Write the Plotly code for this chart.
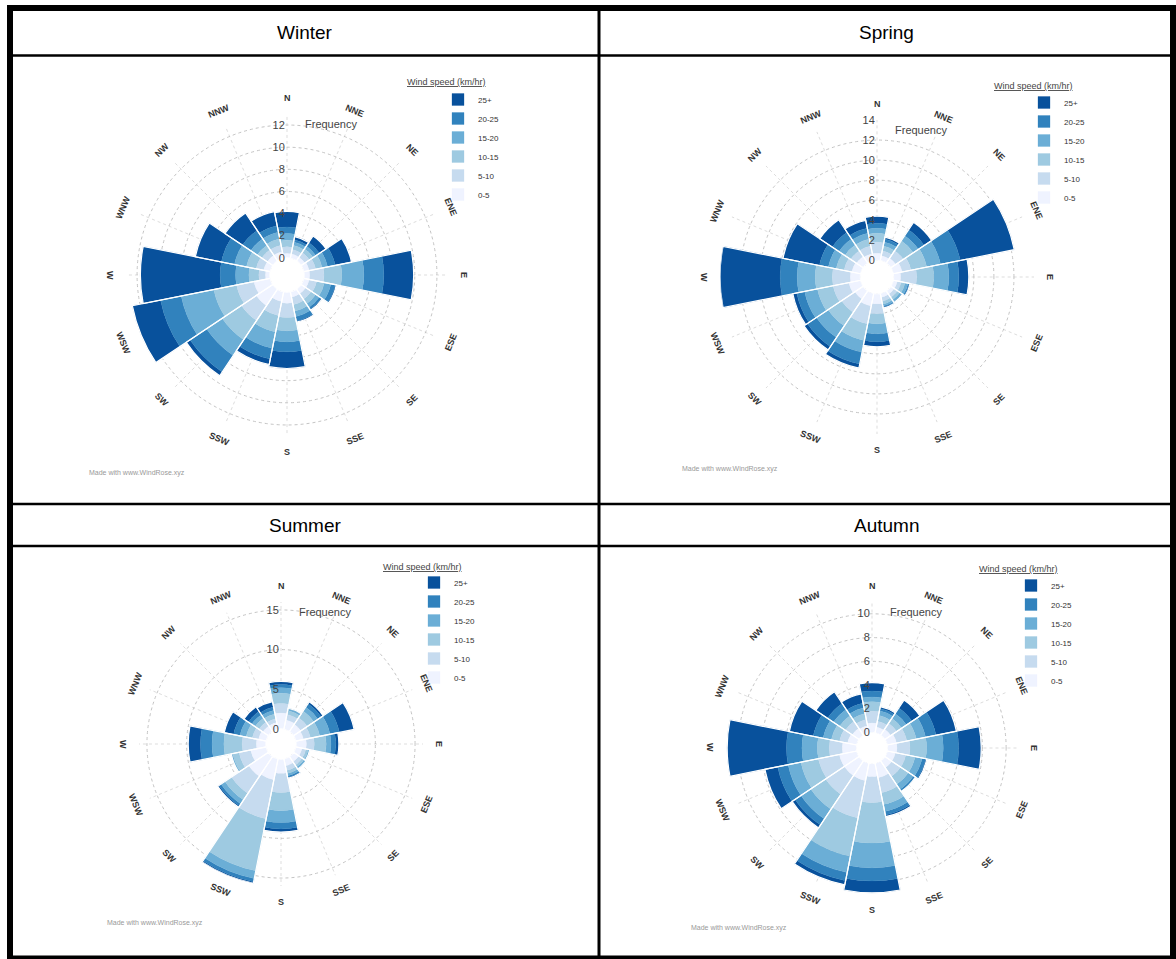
import math
import plotly.graph_objects as go

W, H = 1176, 959

directions = ["N", "NNE", "NE", "ENE", "E", "ESE", "SE", "SSE",
              "S", "SSW", "SW", "WSW", "W", "WNW", "NW", "NNW"]
speed_bins = ["0-5", "5-10", "10-15", "15-20", "20-25", "25+"]
bin_colors = ["#eff3ff", "#c6dbef", "#9ecae1", "#6baed6", "#3182bd", "#08519c"]
seasons = ["Winter", "Spring", "Summer", "Autumn"]

# Frequency (%) per speed bin, over the 16 directions (N ... NNW)
winter_0_5 = [0.4, 0.4, 0.4, 0.5, 0.5, 0.5, 0.5, 0.5, 1.0, 0.9, 1.8, 1.5, 0.4, 0.6, 0.6, 0.6]
winter_5_10 = [0.6, 0.4, 0.5, 0.6, 1.3, 0.7, 0.6, 0.7, 1.3, 1.3, 1.6, 1.6, 0.6, 0.7, 0.6, 0.6]
winter_10_15 = [0.6, 0.4, 0.4, 0.6, 1.6, 0.7, 0.5, 0.6, 1.2, 1.5, 2.1, 2.1, 0.9, 0.9, 0.5, 0.6]
winter_15_20 = [0.6, 0.3, 0.3, 0.5, 2.0, 0.6, 0.4, 0.5, 1.0, 1.5, 1.7, 3.0, 1.2, 1.1, 0.7, 0.6]
winter_20_25 = [0.6, 0.2, 0.4, 0.7, 1.8, 0.4, 0.2, 0.4, 0.9, 1.0, 1.8, 1.9, 1.4, 1.2, 0.9, 0.6]
winter_25p = [1.4, 0.3, 0.7, 1.5, 2.7, 0.1, 0.1, 0.1, 1.5, 0.5, 0.4, 2.6, 7.2, 2.4, 1.9, 1.3]

spring_0_5 = [0.7, 0.5, 0.6, 0.9, 0.7, 0.4, 0.4, 0.4, 1.0, 1.3, 1.0, 1.2, 1.0, 0.9, 0.8, 0.7]
spring_5_10 = [1.1, 0.5, 0.9, 0.9, 1.6, 0.4, 0.4, 0.4, 1.0, 1.8, 1.6, 1.6, 1.8, 0.8, 0.7, 0.8]
spring_10_15 = [0.9, 0.5, 1.2, 1.6, 1.7, 0.4, 0.3, 0.3, 1.0, 1.7, 1.6, 1.6, 1.7, 0.8, 0.7, 0.7]
spring_15_20 = [0.5, 0.4, 0.6, 1.4, 1.5, 0.3, 0.2, 0.2, 1.0, 1.2, 1.4, 1.3, 1.8, 0.8, 0.7, 0.6]
spring_20_25 = [0.5, 0.3, 0.7, 2.0, 1.0, 0.1, 0.1, 0.1, 0.8, 1.2, 1.1, 0.8, 1.7, 0.9, 0.8, 0.5]
spring_25p = [0.7, 0.2, 0.9, 5.5, 1.0, 0.1, 0.0, 0.1, 0.5, 0.4, 0.4, 0.4, 6.0, 3.7, 1.5, 0.8]

summer_0_5 = [2.0, 1.2, 1.1, 1.0, 1.3, 0.8, 0.8, 0.9, 1.8, 2.7, 3.0, 2.0, 1.2, 1.0, 0.85, 0.85]
summer_5_10 = [1.2, 0.7, 1.0, 0.9, 1.0, 0.5, 0.5, 0.6, 2.4, 5.0, 2.6, 1.5, 1.8, 0.8, 0.6, 0.5]
summer_10_15 = [1.3, 0.5, 1.0, 1.2, 1.5, 0.3, 0.3, 0.4, 2.3, 6.7, 1.0, 0.8, 2.3, 0.8, 0.6, 0.6]
summer_15_20 = [0.7, 0.2, 0.6, 1.3, 0.6, 0.2, 0.2, 0.3, 1.5, 1.0, 0.6, 0.2, 1.5, 0.8, 0.5, 0.5]
summer_20_25 = [0.4, 0.1, 0.5, 1.2, 0.6, 0.0, 0.1, 0.2, 0.8, 0.4, 0.3, 0.0, 1.45, 0.8, 0.5, 0.4]
summer_25p = [0.4, 0.0, 0.3, 1.9, 0.4, 0.0, 0.0, 0.1, 0.4, 0.2, 0.2, 0.0, 1.55, 1.2, 0.7, 0.7]

autumn_0_5 = [0.8, 0.5, 0.6, 0.8, 0.8, 0.7, 0.7, 1.25, 1.1, 1.5, 1.5, 1.5, 1.2, 0.8, 0.7, 0.6]
autumn_5_10 = [1.0, 0.5, 0.6, 0.9, 1.1, 0.9, 0.9, 1.3, 2.2, 3.2, 1.9, 1.8, 1.1, 0.7, 0.7, 0.55]
autumn_10_15 = [0.8, 0.5, 0.5, 0.8, 1.4, 0.8, 0.8, 1.0, 3.4, 3.3, 1.5, 1.5, 1.0, 0.7, 0.6, 0.5]
autumn_15_20 = [0.4, 0.4, 0.5, 0.8, 1.4, 0.6, 0.5, 0.6, 2.1, 1.4, 1.0, 1.1, 1.3, 0.7, 0.6, 0.5]
autumn_20_25 = [0.5, 0.2, 0.55, 0.9, 1.3, 0.3, 0.2, 0.3, 1.1, 0.7, 0.6, 0.9, 1.3, 0.85, 0.6, 0.4]
autumn_25p = [0.7, 0.15, 0.8, 1.75, 1.9, 0.1, 0.0, 0.15, 1.0, 0.35, 0.3, 1.1, 5.0, 2.05, 1.2, 0.8]

radial_max = [13, 14, 16, 11]
radial_dtick = [2, 2, 5, 2]

season_bins = [
    [winter_0_5, winter_5_10, winter_10_15, winter_15_20, winter_20_25, winter_25p],
    [spring_0_5, spring_5_10, spring_10_15, spring_15_20, spring_20_25, spring_25p],
    [summer_0_5, summer_5_10, summer_10_15, summer_15_20, summer_20_25, summer_25p],
    [autumn_0_5, autumn_5_10, autumn_10_15, autumn_15_20, autumn_20_25, autumn_25p],
]

# ---- layout geometry (pixels) ----
centers = [(287, 275), (877, 277), (281, 744), (872, 748)]
radii = [161, 157, 142, 146]
legend_pos = [(438, 85), (1024, 88), (414, 568), (1011, 571)]   # left, top of legend items
legend_title_pos = [(446, 82), (1033, 86), (422, 567), (1018, 569)]
credit_pos = [(87, 473), (680, 469), (105, 923), (689, 928)]
header_pos = [(305, 33), (886, 33), (305, 525), (886, 525)]


def fx(x):
    return x / W


def fy(y):
    return 1 - y / H


fig = go.Figure()
layout_extra = {}
annotations = []

for si, season in enumerate(seasons):
    sub = "polar" if si == 0 else f"polar{si + 1}"
    leg = "legend" if si == 0 else f"legend{si + 1}"
    bins = season_bins[si]
    # stacked bands: each band starts where the lower speed bands end
    base = [0.0] * len(directions)
    bases = []
    for bi in range(len(speed_bins)):
        bases.append(list(base))
        base = [b + v for b, v in zip(base, bins[bi])]
    totals = base
    for bi in reversed(range(len(speed_bins))):
        bname = speed_bins[bi]
        fig.add_trace(go.Barpolar(
            r=bins[bi], base=bases[bi], theta=directions, name=bname,
            marker=dict(color=bin_colors[bi], line=dict(color=bin_colors[bi], width=0.3)),
            subplot=sub, legend=leg,
            hovertemplate="%{theta}: %{r}%<extra>" + bname + "</extra>",
        ))
    # white separators between the direction sectors
    fig.add_trace(go.Barpolar(
        r=totals, theta=directions, name="total", showlegend=False,
        marker=dict(color="rgba(0,0,0,0)", line=dict(color="white", width=1.2)),
        subplot=sub, hoverinfo="skip",
    ))
    cx, cy = centers[si]
    R = radii[si]
    layout_extra[sub] = dict(
        domain=dict(x=[fx(cx - R), fx(cx + R)], y=[fy(cy + R), fy(cy - R)]),
        hole=0.106,
        bargap=0,
        barmode="overlay",
        bgcolor="white",
        radialaxis=dict(
            range=[0, radial_max[si]], dtick=radial_dtick[si], angle=90,
            side="counterclockwise", color="#444",
            showline=False, ticks="", tickangle=90,
            tickfont=dict(family="Liberation Sans, Arial", size=11, color="#444"),
            gridcolor="#c4c4c4", griddash="3px,3px", gridwidth=1,
        ),
        angularaxis=dict(
            type="category", categoryarray=directions, rotation=90,
            direction="clockwise", showticklabels=False, ticks="",
            showline=False, gridcolor="#dddddd", griddash="dot",
        ),
    )
    lx, ly = legend_pos[si]
    layout_extra[leg] = dict(
        x=fx(lx), y=fy(ly), xanchor="left", yanchor="top",
        traceorder="normal", bgcolor="rgba(0,0,0,0)",
        font=dict(family="Liberation Sans, Arial", size=8, color="#333"),
        itemclick=False, itemdoubleclick=False,
    )
    tx, ty = legend_title_pos[si]
    annotations.append(dict(
        x=fx(tx), y=fy(ty), xref="paper", yref="paper", showarrow=False,
        text="<u>Wind speed (km/hr)</u>", xanchor="center", yanchor="middle",
        font=dict(family="Liberation Sans, Arial", size=9, color="#444"),
    ))
    # direction labels around the rose
    for di, d in enumerate(directions):
        a = di * 22.5
        rr = R + 16
        x = cx + rr * math.sin(math.radians(a))
        y = cy - rr * math.cos(math.radians(a))
        if a <= 90:
            ang = a
        elif a <= 270:
            ang = a - 180
        else:
            ang = a - 360
        annotations.append(dict(
            x=fx(x), y=fy(y), xref="paper", yref="paper", showarrow=False,
            text=f"<b>{d}</b>", textangle=ang, xanchor="center", yanchor="middle",
            font=dict(family="Liberation Sans, Arial", size=9, color="#333"),
        ))
    annotations.append(dict(
        x=fx(cx + 16), y=fy(cy - R + 10), xref="paper", yref="paper", showarrow=False,
        text="Frequency", xanchor="left", yanchor="middle",
        font=dict(family="Liberation Sans, Arial", size=11, color="#444"),
    ))
    crx, cry = credit_pos[si]
    annotations.append(dict(
        x=fx(crx), y=fy(cry), xref="paper", yref="paper", showarrow=False,
        text="Made with www.WindRose.xyz", xanchor="left", yanchor="middle",
        font=dict(family="Liberation Sans, Arial", size=7, color="#999"),
    ))
    hx, hy = header_pos[si]
    annotations.append(dict(
        x=fx(hx), y=fy(hy), xref="paper", yref="paper", showarrow=False,
        text=season, xanchor="center", yanchor="middle",
        font=dict(family="Liberation Sans, Arial", size=19, color="black"),
    ))

# table frame
shapes = [
    dict(type="line", x0=fx(10), x1=fx(10), y0=fy(5), y1=fy(959),
         line=dict(color="black", width=6)),
    dict(type="line", x0=fx(7), x1=fx(1176), y0=fy(8), y1=fy(8),
         line=dict(color="black", width=6)),
    dict(type="line", x0=fx(1173), x1=fx(1173), y0=fy(5), y1=fy(959),
         line=dict(color="black", width=6)),
    dict(type="line", x0=fx(7), x1=fx(1176), y0=fy(957.5), y1=fy(957.5),
         line=dict(color="black", width=4)),
    dict(type="line", x0=fx(599), x1=fx(599), y0=fy(8), y1=fy(957),
         line=dict(color="black", width=3)),
    dict(type="line", x0=fx(10), x1=fx(1173), y0=fy(55.5), y1=fy(55.5),
         line=dict(color="black", width=2.5)),
    dict(type="line", x0=fx(10), x1=fx(1173), y0=fy(504), y1=fy(504),
         line=dict(color="black", width=2.5)),
    dict(type="line", x0=fx(10), x1=fx(1173), y0=fy(546), y1=fy(546),
         line=dict(color="black", width=2.5)),
]
for s in shapes:
    s.update(xref="paper", yref="paper", layer="above")

fig.update_layout(
    width=W, height=H, autosize=False,
    margin=dict(l=0, r=0, t=0, b=0),
    paper_bgcolor="white", plot_bgcolor="white",
    showlegend=True,
    annotations=annotations, shapes=shapes,
    **layout_extra,
)

# the page's default 8px body margin would push the 1176x959 figure off-screen
fig.write_html(
    "out.html",
    config={"displayModeBar": False},
    post_script=("document.body.style.margin='0px';"
                 "document.documentElement.style.overflow='hidden';"),
)
